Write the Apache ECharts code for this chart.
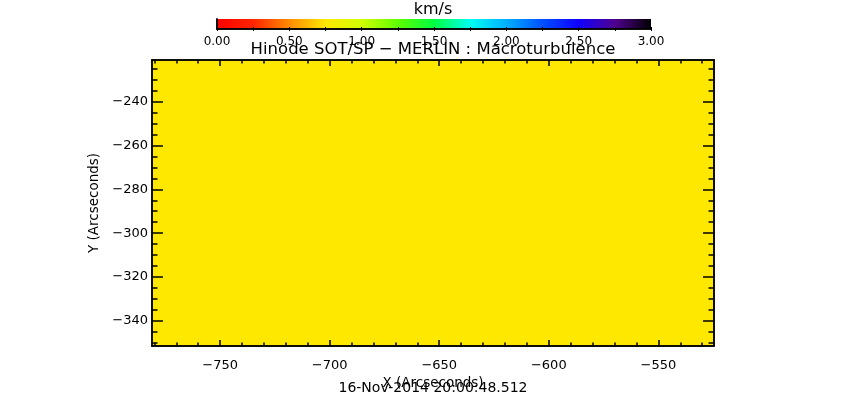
<!DOCTYPE html>
<html>
<head>
<meta charset="utf-8">
<title>Hinode SOT/SP - MERLIN : Macroturbulence</title>
<script src="https://cdn.jsdelivr.net/npm/echarts@6/dist/echarts.min.js"></script>
<style>
    html, body { margin: 0; padding: 0; background: #fff; }
    #main { width: 866px; height: 408px; }
</style>
</head>
<body>
<div id="main"></div>
<script>
// map extent (arcsec) and the single macroturbulence value of the map
var mapX = [-781.1, -524.6];
var mapY = [-351.5, -221.0];
var mapValue = 0.75;

// tick values
var xMajor = [-750, -700, -650, -600, -550];
var xMinor = [-780, -770, -760, -740, -730, -720, -710, -690, -680, -670, -660,
    -640, -630, -620, -610, -590, -580, -570, -560, -540, -530];
var yMajor = [-340, -320, -300, -280, -260, -240];
var yMinor = [-350, -345, -335, -330, -325, -315, -310, -305, -295, -290, -285,
    -275, -270, -265, -255, -250, -245, -235, -230, -225];

// colour bar (km/s)
var cbRange = [0, 3];
var cbLabels = [0, 0.5, 1.0, 1.5, 2.0, 2.5, 3.0];
var cbTicks = [0, 0.25, 0.5, 0.75, 1.0, 1.25, 1.5, 1.75, 2.0, 2.25, 2.5, 2.75, 3.0];
var cbColors = ['#ff0000', '#ff2400', '#ff8c00', '#ffe800', '#d0ff00', '#60ff00', '#00ff40',
    '#00fff0', '#00b0ff', '#0050ff', '#1000ff', '#500090', '#000000'];

var FONT = 'DejaVu Sans';

function minusFmt(v) {
    return String(v).replace('-', '\u2212');
}

function xAxisDef(pos, values, len, main) {
    return {
        type: 'value', gridIndex: 0, position: pos, min: mapX[0], max: mapX[1],
        z: 5,
        name: main ? 'X (Arcseconds)' : '',
        nameLocation: 'middle', nameGap: 29,
        nameTextStyle: { color: '#000', fontSize: 13.5, fontFamily: FONT },
        axisLine: { show: true, lineStyle: { color: '#000', width: 1.5 } },
        axisTick: { show: true, inside: true, length: len, customValues: values, lineStyle: { color: '#000', width: 1.5 } },
        axisLabel: {
            show: !!main, customValues: xMajor, margin: 13,
            color: '#000', fontSize: 13, fontFamily: FONT, formatter: minusFmt
        },
        splitLine: { show: false }
    };
}

function yAxisDef(pos, values, len, main) {
    return {
        type: 'value', gridIndex: 0, position: pos, min: mapY[0], max: mapY[1],
        z: 5,
        name: main ? 'Y (Arcseconds)' : '',
        nameLocation: 'middle', nameGap: 50,
        nameTextStyle: { color: '#000', fontSize: 13.5, fontFamily: FONT },
        axisLine: { show: true, lineStyle: { color: '#000', width: 1.5 } },
        axisTick: { show: true, inside: true, length: len, customValues: values, lineStyle: { color: '#000', width: 1.5 } },
        axisLabel: {
            show: !!main, customValues: yMajor, margin: 4,
            color: '#000', fontSize: 13, fontFamily: FONT, formatter: minusFmt
        },
        splitLine: { show: false }
    };
}

var gradStops = [];
for (var i = 0; i < cbColors.length; i++) {
    gradStops.push({ offset: i / (cbColors.length - 1), color: cbColors[i] });
}

var myChart = echarts.init(document.getElementById('main'), null, { renderer: 'canvas' });
myChart.setOption({
    backgroundColor: '#fff',
    animation: false,
    title: [
        { text: 'km/s', left: 'center', top: 2, padding: 0,
            textStyle: { color: '#000', fontSize: 16, fontWeight: 'normal', fontFamily: FONT } },
        { text: 'Hinode SOT/SP \u2212 MERLIN : Macroturbulence', left: 'center', top: 41, padding: 0,
            textStyle: { color: '#000', fontSize: 16.5, fontWeight: 'normal', fontFamily: FONT } },
        { text: '16-Nov-2014 20:00:48.512', left: 'center', top: 381, padding: 0,
            textStyle: { color: '#000', fontSize: 14, fontWeight: 'normal', fontFamily: FONT } }
    ],
    grid: [
        { left: 152, top: 60, width: 562, height: 286 },
        { left: 217, top: 19, width: 434, height: 10 }
    ],
    visualMap: {
        show: false, type: 'continuous', seriesIndex: 0, dimension: 4,
        min: cbRange[0], max: cbRange[1], inRange: { color: cbColors }
    },
    xAxis: [
        xAxisDef('bottom', xMajor, 6, true),
        xAxisDef('top', xMajor, 6, false),
        xAxisDef('bottom', xMinor, 3.5, false),
        xAxisDef('top', xMinor, 3.5, false),
        {
            type: 'value', gridIndex: 1, position: 'bottom', min: cbRange[0], max: cbRange[1], z: 5,
            axisLine: { show: true, lineStyle: { color: '#000', width: 1.5 } },
            axisTick: { show: true, inside: true, length: 2, customValues: cbTicks, lineStyle: { color: '#000' } },
            axisLabel: {
                customValues: cbLabels, margin: 7, color: '#000', fontSize: 12, fontFamily: FONT,
                formatter: function (v) { return v.toFixed(2); }
            },
            splitLine: { show: false }
        },
        {
            type: 'value', gridIndex: 1, position: 'top', min: cbRange[0], max: cbRange[1], z: 5,
            axisLine: { show: true, lineStyle: { color: '#000', width: 1.5 } },
            axisTick: { show: true, inside: true, length: 2, customValues: cbTicks, lineStyle: { color: '#000' } },
            axisLabel: { show: false },
            splitLine: { show: false }
        }
    ],
    yAxis: [
        yAxisDef('left', yMajor, 11, true),
        yAxisDef('right', yMajor, 11, false),
        yAxisDef('left', yMinor, 5.5, false),
        yAxisDef('right', yMinor, 5.5, false),
        {
            type: 'value', gridIndex: 1, min: 0, max: 1, z: 5,
            axisLine: { show: true, lineStyle: { color: '#000', width: 1.5 } },
            axisTick: { show: false }, axisLabel: { show: false }, splitLine: { show: false }
        },
        {
            type: 'value', gridIndex: 1, position: 'right', min: 0, max: 1, z: 5,
            axisLine: { show: true, lineStyle: { color: '#000', width: 1.5 } },
            axisTick: { show: false }, axisLabel: { show: false }, splitLine: { show: false }
        }
    ],
    series: [
        {
            // the map itself
            type: 'custom', xAxisIndex: 0, yAxisIndex: 0, z: 1,
            data: [[mapX[0], mapY[0], mapX[1], mapY[1], mapValue]],
            renderItem: function (params, api) {
                var p0 = api.coord([api.value(0), api.value(3)]);
                var p1 = api.coord([api.value(2), api.value(1)]);
                return {
                    type: 'rect',
                    shape: { x: p0[0], y: p0[1], width: p1[0] - p0[0], height: p1[1] - p0[1] },
                    style: { fill: api.visual('color') }
                };
            }
        },
        {
            // colour bar
            type: 'custom', xAxisIndex: 4, yAxisIndex: 4, z: 1,
            data: [[cbRange[0], 0, cbRange[1], 1]],
            renderItem: function (params, api) {
                var p0 = api.coord([api.value(0), api.value(3)]);
                var p1 = api.coord([api.value(2), api.value(1)]);
                return {
                    type: 'rect',
                    shape: { x: p0[0], y: p0[1], width: p1[0] - p0[0], height: p1[1] - p0[1] },
                    style: { fill: new echarts.graphic.LinearGradient(0, 0, 1, 0, gradStops) }
                };
            }
        }
    ]
});
</script>
</body>
</html>
